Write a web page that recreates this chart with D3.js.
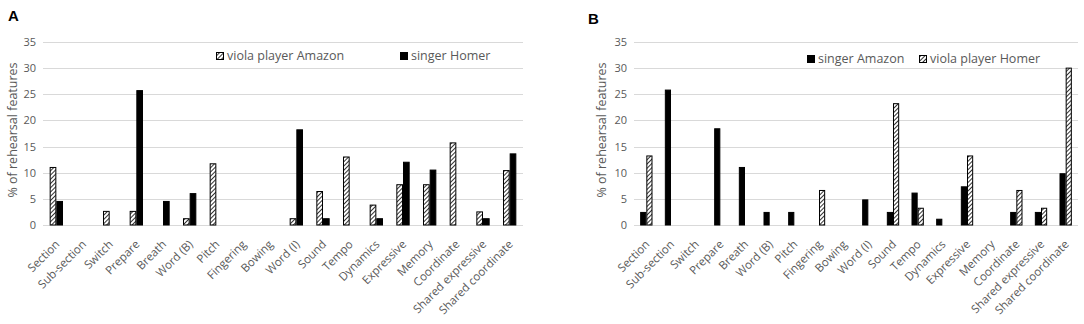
<!DOCTYPE html>
<html><head><meta charset="utf-8">
<script src="https://cdn.jsdelivr.net/npm/d3@7"></script>
<style>body{margin:0;background:#fff;} svg{display:block;font-family:"Open Sans",sans-serif;}</style>
</head><body>
<svg id="c" width="1084" height="324"></svg>
<script>
const categories = ["Section","Sub-section","Switch","Prepare","Breath","Word (B)","Pitch","Fingering","Bowing","Word (I)","Sound","Tempo","Dynamics","Expressive","Memory","Coordinate","Shared expressive","Shared coordinate"];
const yTicks = [0,5,10,15,20,25,30,35];
// Panel A
const violaAmazon = [11.1,0,2.7,2.7,0,1.3,11.8,0,0,1.3,6.5,13.1,3.9,7.8,7.8,15.8,2.6,10.5];
const singerHomer = [4.6,0,0,25.8,4.6,6.1,0,0,0,18.3,1.3,0,1.3,12.1,10.6,0,1.3,13.7];
// Panel B
const singerAmazon = [2.5,25.9,0,18.5,11.1,2.5,2.5,0,0,4.9,2.5,6.2,1.2,7.4,0,2.5,2.5,9.9];
const violaHomer = [13.3,0,0,0,0,0,0,6.7,0,0,23.3,3.3,0,13.3,0,6.7,3.3,30.1];

const svg = d3.select("#c");
const defs = svg.append("defs");
const pat = defs.append("pattern").attr("id","hatch").attr("patternUnits","userSpaceOnUse")
  .attr("width",3).attr("height",3).attr("patternTransform","rotate(45)");
pat.append("rect").attr("width",3).attr("height",3).attr("fill","#fff");
pat.append("line").attr("x1",0).attr("y1",0).attr("x2",0).attr("y2",3).attr("stroke","#000").attr("stroke-width",1.6);

const gray = "#595959";

function panel(opts){
  const {x0,x1,letter,letterX,letterY,series,titleX,legend} = opts;
  const y = d3.scaleLinear().domain([0,35]).range([225,42]);
  const x = d3.scaleBand().domain(categories).range([x0,x1]).paddingInner(0).paddingOuter(0);
  const inner = d3.scaleBand().domain(series.map(s=>s.name)).range([x.bandwidth()*0.25, x.bandwidth()*0.75]);
  const g = svg.append("g");
  // grid
  g.selectAll("line.grid").data(yTicks).join("line")
    .attr("x1",x0).attr("x2",x1).attr("y1",d=>Math.round(y(d))+0.5).attr("y2",d=>Math.round(y(d))+0.5)
    .attr("stroke","#d9d9d9").attr("stroke-width",1);
  // y axis labels
  const ya = d3.axisLeft(y).tickValues(yTicks).tickSize(0).tickPadding(0);
  const yg = g.append("g").attr("transform",`translate(${x0-7},0)`).call(ya);
  yg.select(".domain").remove();
  yg.selectAll("text").attr("fill",gray).attr("font-size",11).attr("font-family","Open Sans");
  // bars
  series.forEach(s=>{
    g.selectAll(null).data(s.values).join("rect")
      .attr("x",(d,i)=>x(categories[i])+inner(s.name)+0.5)
      .attr("y",d=>y(d)+0.5)
      .attr("width",inner.bandwidth()-1)
      .attr("height",d=>Math.max(0,y(0)-y(d)-0.5))
      .attr("fill",s.hatch?"url(#hatch)":"#000")
      .attr("stroke","#000").attr("stroke-width",1)
      .attr("display",d=>d>0?null:"none");
  });
  // x axis labels
  const xa = d3.axisBottom(x).tickSize(0).tickPadding(0);
  const xg = g.append("g").attr("transform",`translate(0,225)`).call(xa);
  xg.select(".domain").remove();
  xg.selectAll("text").attr("fill",gray).attr("font-size",11.5).attr("font-family","Open Sans")
    .attr("text-anchor","end").attr("dy",0).attr("y",0)
    .attr("transform","translate(4,20) rotate(-45)");
  // y title
  g.append("text").attr("transform",`translate(${titleX},130) rotate(-90)`)
    .attr("text-anchor","middle").attr("fill",gray).attr("font-size",12.5).text("% of rehearsal features");
  // panel letter
  svg.append("text").attr("x",letterX).attr("y",letterY).attr("font-family","Liberation Sans, Arial")
    .attr("font-weight","bold").attr("font-size",15).text(letter);
  // legend
  legend.forEach(l=>{
    const s = series.find(t=>t.name===l.name);
    g.append("rect").attr("x",l.x+0.5).attr("y",l.y-7.5).attr("width",7).attr("height",7)
      .attr("fill",s.hatch?"url(#hatch)":"#000").attr("stroke","#000");
    g.append("text").attr("x",l.x+11).attr("y",l.y).attr("fill",gray).attr("font-size",12.5).text(l.name);
  });
}

panel({x0:43,x1:523,letter:"A",letterX:8,letterY:21,titleX:17,
  series:[{name:"viola player Amazon",values:violaAmazon,hatch:true},{name:"singer Homer",values:singerHomer,hatch:false}],
  legend:[{name:"viola player Amazon",x:216,y:60},{name:"singer Homer",x:400,y:60}]});
panel({x0:634,x1:1078,letter:"B",letterX:588,letterY:24,titleX:606,
  series:[{name:"singer Amazon",values:singerAmazon,hatch:false},{name:"viola player Homer",values:violaHomer,hatch:true}],
  legend:[{name:"singer Amazon",x:807,y:63},{name:"viola player Homer",x:919,y:63}]});
</script>
</body></html>
